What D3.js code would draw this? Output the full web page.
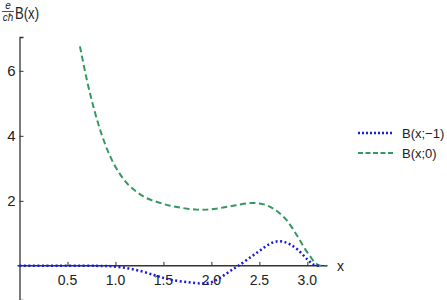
<!DOCTYPE html>
<html>
<head>
<meta charset="utf-8">
<script src="https://cdn.jsdelivr.net/npm/d3@7"></script>
<style>
  body { margin: 0; background: #fff; }
  text { font-family: "Liberation Sans", Arial, sans-serif; }
</style>
</head>
<body>
<div id="chart"></div>
<script>
// series
var blueX = [0, 0.5, 0.8, 0.95, 1.1, 1.25, 1.4, 1.5, 1.6, 1.75, 1.9, 2.0, 2.1, 2.2, 2.28, 2.4, 2.5, 2.6, 2.68, 2.75, 2.82, 2.9, 3.0, 3.07, 3.12];
var blueY = [0, 0, 0, -0.01, -0.06, -0.15, -0.28, -0.37, -0.44, -0.5, -0.54, -0.5, -0.35, -0.15, 0, 0.25, 0.46, 0.66, 0.75, 0.74, 0.66, 0.5, 0.2, 0.03, 0];
var greenX = [0.63, 0.7, 0.77, 0.85, 0.94, 1.03, 1.12, 1.22, 1.32, 1.45, 1.57, 1.7, 1.85, 1.95, 2.05, 2.19, 2.3, 2.42, 2.5, 2.58, 2.64, 2.71, 2.78, 2.85, 2.92, 2.98, 3.03, 3.08, 3.13, 3.2];
var greenY = [6.75, 5.75, 4.9, 4.1, 3.4, 2.9, 2.54, 2.28, 2.09, 1.95, 1.85, 1.78, 1.73, 1.73, 1.76, 1.83, 1.89, 1.93, 1.92, 1.86, 1.77, 1.62, 1.42, 1.13, 0.8, 0.5, 0.29, 0.1, 0.01, 0];
var seriesNames = ["B(x;\u22121)", "B(x;0)"];
var xTicks = [0.5, 1.0, 1.5, 2.0, 2.5, 3.0];
var yTicks = [2, 4, 6];

var W = 447, H = 300;
var svg = d3.select("#chart").append("svg").attr("width", W).attr("height", H);

var x = d3.scaleLinear().domain([0, 3.21]).range([19.5, 327.5]);
var y = d3.scaleLinear().domain([-1.05, 7.04]).range([300, 37]);

var axisCol = "#333";

// y axis
var gy = svg.append("g").attr("transform", "translate(" + x(0) + ",0)");
gy.call(d3.axisRight(y).tickValues(d3.range(-1, 7.01, 0.5)).tickSize(2).tickFormat(""));
gy.call(d3.axisRight(y).tickValues(yTicks).tickSize(4).tickFormat(""));
gy.selectAll(".domain").attr("stroke", axisCol).attr("stroke-width", 1.3);
gy.selectAll(".tick line").attr("stroke", axisCol);
yTicks.forEach(function (t) {
  svg.append("text").attr("x", x(0) - 4).attr("y", y(t) + 5.5)
    .attr("text-anchor", "end").attr("font-size", 15).attr("fill", "#222").text(t);
});

// x axis
var gx = svg.append("g").attr("transform", "translate(0," + y(0) + ")");
gx.call(d3.axisTop(x).tickValues(d3.range(0.1, 3.201, 0.1)).tickSize(2).tickFormat(""));
gx.call(d3.axisTop(x).tickValues(xTicks).tickSize(4).tickFormat(""));
gx.selectAll(".domain").attr("stroke", axisCol).attr("stroke-width", 1.5)
  .attr("d", "M" + (x(0) - 2) + ",0H" + x(3.21));
gx.selectAll(".tick line").attr("stroke", axisCol);
xTicks.forEach(function (t) {
  svg.append("text").attr("x", x(t)).attr("y", y(0) + 19.5)
    .attr("text-anchor", "middle").attr("font-size", 14).attr("fill", "#222").text(d3.format(".1f")(t));
});
svg.append("text").attr("x", 337).attr("y", y(0) + 5).attr("font-size", 14).attr("fill", "#222").text("x");

// y label: e/(c hbar) B(x)
var lab = svg.append("g").attr("fill", "#222");
lab.append("text").attr("x", 8).attr("y", 9).attr("text-anchor", "middle")
  .attr("font-size", 10).attr("font-style", "italic").text("e");
lab.append("line").attr("x1", 2).attr("x2", 14).attr("y1", 11.5).attr("y2", 11.5).attr("stroke", "#222").attr("stroke-width", 0.8);
lab.append("text").attr("x", 8).attr("y", 21).attr("text-anchor", "middle")
  .attr("font-size", 10).attr("font-style", "italic").text("c\u0127");
lab.append("text").attr("x", 15).attr("y", 19).attr("font-size", 16)
  .attr("textLength", 24).attr("lengthAdjust", "spacingAndGlyphs").text("B(x)");

// curves
var line = d3.line().x(function (d) { return x(d[0]); }).y(function (d) { return y(d[1]); })
  .curve(d3.curveCatmullRom);
var blue = "#1a1ae0", green = "#35985f";

svg.append("path").datum(d3.zip(greenX, greenY)).attr("d", line)
  .attr("fill", "none").attr("stroke", green).attr("stroke-width", 2).attr("stroke-dasharray", "6,3.5");
svg.append("path").datum(d3.zip(blueX, blueY)).attr("d", line)
  .attr("fill", "none").attr("stroke", blue).attr("stroke-width", 2.5).attr("stroke-dasharray", "2,2.5");

// legend
var legend = [{ name: seriesNames[0], col: blue, dash: "2,2", w: 2.5 }, { name: seriesNames[1], col: green, dash: "5,2.5", w: 2 }];
legend.forEach(function (d, i) {
  var yy = 133 + i * 20;
  svg.append("line").attr("x1", 358).attr("x2", 394).attr("y1", yy).attr("y2", yy)
    .attr("stroke", d.col).attr("stroke-width", d.w).attr("stroke-dasharray", d.dash);
  svg.append("text").attr("x", 402).attr("y", yy + 5).attr("font-size", 13).attr("fill", "#222").text(d.name);
});
</script>
</body>
</html>
